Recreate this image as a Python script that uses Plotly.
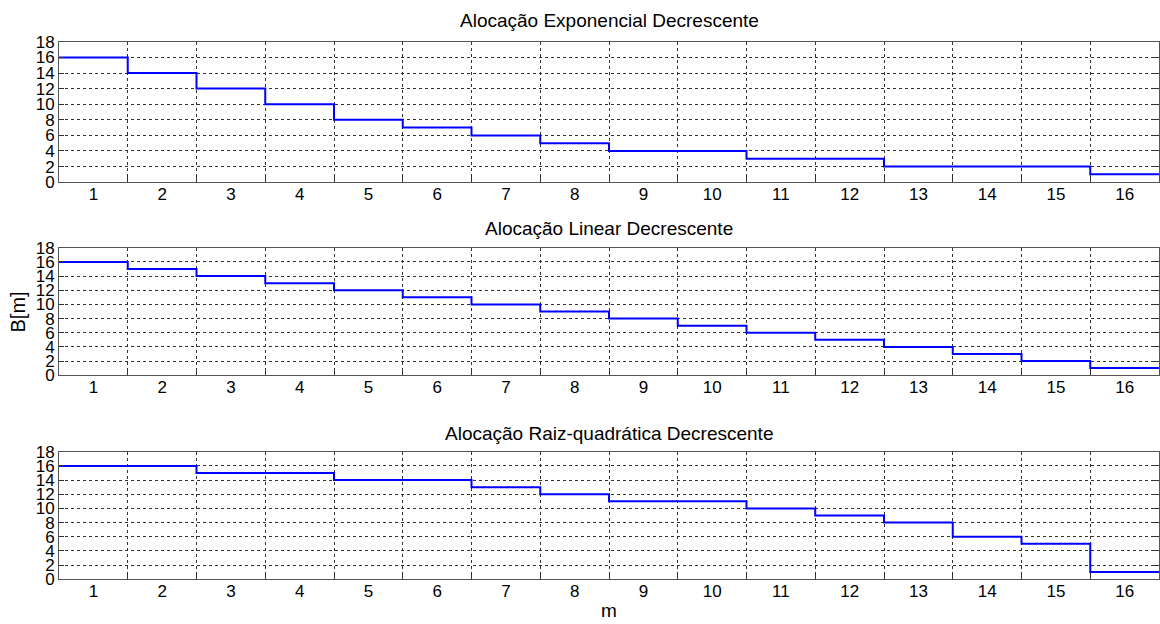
import numpy as np
import plotly.graph_objects as go
from plotly.subplots import make_subplots

m = list(range(1, 17))
titles = ["Alocação Exponencial Decrescente",
          "Alocação Linear Decrescente",
          "Alocação Raiz-quadrática Decrescente"]
b_exp = [16, 14, 12, 10, 8, 7, 6, 5, 4, 4, 3, 3, 2, 2, 2, 1]
b_lin = [16, 15, 14, 13, 12, 11, 10, 9, 8, 7, 6, 5, 4, 3, 2, 1]
b_raiz = [16, 16, 15, 15, 14, 14, 13, 12, 11, 11, 10, 9, 8, 6, 5, 1]
y_ticks = list(range(0, 19, 2))
series = [b_exp, b_lin, b_raiz]

FONT = "Liberation Sans, Arial, sans-serif"
fig = make_subplots(rows=3, cols=1)

W, H = 1160, 624
OFF, EFF = 8, 608


def fy(px):
    return 1 - (px - OFF) / EFF


xdom = [59 / W, 1159 / W]
ydoms = [(41, 182), (248, 376), (453, 581)]
title_y = [20, 229, 435]

for i, vals in enumerate(series):
    r = i + 1
    edges = [v - 0.5 for v in m] + [m[-1] + 0.5]
    yy = list(vals) + [vals[-1]]
    fig.add_trace(go.Scatter(x=edges, y=yy, mode="lines", line_shape="hv",
                             line=dict(color="#0000FF", width=2),
                             showlegend=False, hoverinfo="skip"), row=r, col=1)
    top, bot = ydoms[i]
    ax = "xaxis" if r == 1 else f"xaxis{r}"
    ay = "yaxis" if r == 1 else f"yaxis{r}"
    fig.layout[ax].update(
        domain=xdom, range=[0.5, 16.5], tickvals=m, ticktext=[str(v) for v in m],
        ticks="", showgrid=False, zeroline=False, ticklabelstandoff=-4,
        showline=True, linecolor="#555555", linewidth=1, mirror=True,
        tickfont=dict(family=FONT, size=17, color="#000"),
        minor=dict(tickvals=[v + 0.5 for v in m[:-1]], ticks="inside", ticklen=5,
                   tickcolor="#333333", showgrid=True, gridcolor="#333333",
                   griddash="dot", gridwidth=1),
    )
    fig.layout[ay].update(
        domain=[fy(bot), fy(top)], range=[0, 18], tickvals=y_ticks,
        ticks="inside", ticklen=5, tickcolor="#333333",
        showgrid=True, gridcolor="#333333", griddash="dot", gridwidth=1,
        zeroline=False, showline=True, linecolor="#555555", linewidth=1, mirror="ticks",
        tickfont=dict(family=FONT, size=17, color="#000"),
    )
    fig.add_annotation(text=titles[i], x=609 / W, y=fy(title_y[i]), xref="paper",
                       yref="paper", showarrow=False, xanchor="center", yanchor="middle",
                       font=dict(family=FONT, size=19, color="#000"))

fig.add_annotation(text="m", x=609 / W, y=fy(612), xref="paper", yref="paper",
                   showarrow=False, xanchor="center", yanchor="middle",
                   font=dict(family=FONT, size=19, color="#000"))
fig.add_annotation(text="B[m]", x=18 / W, y=fy(313), xref="paper", yref="paper",
                   showarrow=False, xanchor="center", yanchor="middle", textangle=-90,
                   font=dict(family=FONT, size=20, color="#000"))

fig.update_layout(width=W, height=H, margin=dict(l=0, r=0, t=0, b=0),
                  paper_bgcolor="white", plot_bgcolor="white")
fig.write_html("out.html")
